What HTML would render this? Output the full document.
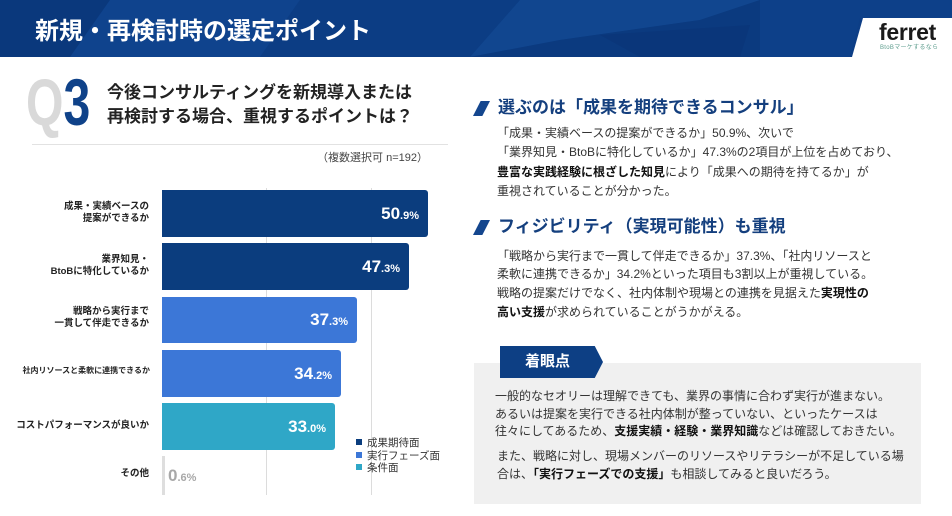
<!DOCTYPE html>
<html lang="ja">
<head>
<meta charset="utf-8">
<style>
*{margin:0;padding:0;box-sizing:border-box;}
html,body{width:952px;height:516px;overflow:hidden;background:#fff;}
body{position:relative;font-family:"Liberation Sans","Noto Sans CJK JP",sans-serif;color:#222;}
.a{position:absolute;white-space:nowrap;}
.lbl{position:absolute;right:803px;text-align:right;font-weight:bold;font-size:9.5px;line-height:11.5px;color:#222;}
.bar{position:absolute;left:162px;border-radius:0 3px 3px 0;}
.val{position:absolute;right:9px;top:50%;transform:translateY(-50%);color:#fff;font-weight:bold;font-family:"Liberation Sans",sans-serif;white-space:nowrap;}
.val b{font-size:17px;}
.val i{font-style:normal;font-size:11px;}
.grid{position:absolute;top:188px;height:307px;width:1px;background:#dcdcdc;}
.leg{position:absolute;left:356px;font-size:10.5px;line-height:12px;color:#333;white-space:nowrap;}
.leg span{display:inline-block;width:6px;height:6px;margin-right:5px;vertical-align:1px;}
.h2{position:absolute;left:498px;font-size:17px;font-weight:bold;color:#143f7e;line-height:20px;white-space:nowrap;}
.sl{position:absolute;width:17px;height:15px;background:#14468e;clip-path:polygon(45% 0,100% 0,55% 100%,0 100%);}
.p{position:absolute;font-size:12px;color:#333;white-space:nowrap;}
.p b{color:#111;}
</style>
</head>
<body>
<!-- header -->
<svg class="a" style="left:0;top:0" width="952" height="57" viewBox="0 0 952 57">
<rect width="952" height="57" fill="#0d3e86"/>
<polygon points="0,0 110,0 70,57 0,57" fill="#0a387c"/>
<polygon points="110,0 300,0 260,57 70,57" fill="#0f438d"/>
<polygon points="300,0 520,0 470,57 260,57" fill="#0c3d84"/>
<polygon points="520,0 760,0 700,20 560,40 470,57" fill="#11468f"/>
<polygon points="470,57 560,40 700,20 760,0 760,57" fill="#0b3a7f"/>
<polygon points="760,0 952,0 952,18 860,18 850,57 760,57" fill="#0d4089"/>
<polygon points="600,35 750,25 740,57 640,57" fill="#0a367a"/>
<polygon points="863,18 952,18 952,57 852,57" fill="#ffffff"/>
</svg>
<div class="a" style="left:35px;top:17px;font-size:24px;line-height:30px;font-weight:bold;color:#fff;">新規・再検討時の選定ポイント</div>
<div class="a" style="left:879px;top:19px;font-size:23px;line-height:26px;font-weight:bold;color:#1a1a1a;letter-spacing:-0.3px;">ferret</div>
<div class="a" style="left:880px;top:44px;font-size:6px;line-height:8px;color:#5f9e8f;letter-spacing:0.3px;">BtoBマーケするなら</div>

<!-- Q3 -->
<div class="a" style="left:26px;top:64px;font-size:66px;line-height:76px;font-weight:bold;transform:scaleX(0.73);transform-origin:0 0;font-family:'Liberation Sans',sans-serif;"><span style="color:#d9d9d9">Q</span><span style="color:#0f4289">3</span></div>
<div class="a" style="left:107px;top:81px;font-size:17px;line-height:24px;font-weight:bold;color:#222;">今後コンサルティングを新規導入または<br>再検討する場合、重視するポイントは？</div>
<div class="a" style="left:32px;top:144px;width:416px;height:1px;background:#e2e2e2;"></div>
<div class="a" style="right:524px;top:151px;font-size:11px;line-height:14px;color:#444;">（複数選択可 n=192）</div>

<!-- chart -->
<div class="grid" style="left:266px"></div>
<div class="grid" style="left:371px"></div>

<div class="lbl" style="top:201px">成果・実績ベースの<br>提案ができるか</div>
<div class="lbl" style="top:254px">業界知見・<br>BtoBに特化しているか</div>
<div class="lbl" style="top:306px">戦略から実行まで<br>一貫して伴走できるか</div>
<div class="lbl" style="top:365px;font-size:8px;right:802px;">社内リソースと柔軟に連携できるか</div>
<div class="lbl" style="top:420px">コストパフォーマンスが良いか</div>
<div class="lbl" style="top:468px">その他</div>

<div class="bar" style="top:190px;height:47px;width:266px;background:#0b3d7e;"><div class="val"><b>50</b><i>.9%</i></div></div>
<div class="bar" style="top:243px;height:47px;width:247px;background:#0b3d7e;"><div class="val"><b>47</b><i>.3%</i></div></div>
<div class="bar" style="top:297px;height:46px;width:195px;background:#3c77d7;"><div class="val"><b>37</b><i>.3%</i></div></div>
<div class="bar" style="top:350px;height:47px;width:179px;background:#3c77d7;"><div class="val"><b>34</b><i>.2%</i></div></div>
<div class="bar" style="top:403px;height:47px;width:173px;background:#2fa7c7;"><div class="val"><b>33</b><i>.0%</i></div></div>
<div class="bar" style="top:456px;height:39px;width:3px;background:#dedede;border-radius:0;"></div>
<div class="a" style="left:168px;top:466px;color:#a8a8a8;font-weight:bold;font-family:'Liberation Sans',sans-serif;line-height:20px;"><span style="font-size:17px">0</span><span style="font-size:11px">.6%</span></div>

<div class="leg" style="top:437px"><span style="background:#0b3d7e"></span>成果期待面</div>
<div class="leg" style="top:450px"><span style="background:#3c77d7"></span>実行フェーズ面</div>
<div class="leg" style="top:462px"><span style="background:#2fa7c7"></span>条件面</div>

<!-- right column -->
<div class="sl" style="left:473px;top:101px"></div>
<div class="h2" style="top:98px">選ぶのは「成果を期待できるコンサル」</div>
<div class="p" style="left:497px;top:124px;line-height:19.3px;">「成果・実績ベースの提案ができるか」50.9%、次いで<br>「業界知見・BtoBに特化しているか」47.3%の2項目が上位を占めており、<br><b>豊富な実践経験に根ざした知見</b>により「成果への期待を持てるか」が<br>重視されていることが分かった。</div>

<div class="sl" style="left:473px;top:220px"></div>
<div class="h2" style="top:217px">フィジビリティ（実現可能性）も重視</div>
<div class="p" style="left:497px;top:246.5px;line-height:18.7px;">「戦略から実行まで一貫して伴走できるか」37.3%、「社内リソースと<br>柔軟に連携できるか」34.2%といった項目も3割以上が重視している。<br>戦略の提案だけでなく、社内体制や現場との連携を見据えた<b>実現性の</b><br><b>高い支援</b>が求められていることがうかがえる。</div>

<div class="a" style="left:474px;top:363px;width:447px;height:141px;background:#f0f0f0;"></div>
<div class="a" style="left:500px;top:346px;width:103px;height:32px;background:#0d3f84;clip-path:polygon(0 0,92% 0,100% 50%,92% 100%,0 100%);"></div>
<div class="a" style="left:500px;top:351px;width:95px;text-align:center;font-size:15px;line-height:22px;font-weight:bold;color:#fff;">着眼点</div>
<div class="p" style="left:495px;top:388px;line-height:17.5px;">一般的なセオリーは理解できても、業界の事情に合わず実行が進まない。<br>あるいは提案を実行できる社内体制が整っていない、といったケースは<br>往々にしてあるため、<b>支援実績・経験・業界知識</b>などは確認しておきたい。</div>
<div class="p" style="left:497px;top:447px;line-height:18px;">また、戦略に対し、現場メンバーのリソースやリテラシーが不足している場<br>合は、<b>「実行フェーズでの支援」</b>も相談してみると良いだろう。</div>
</body>
</html>
